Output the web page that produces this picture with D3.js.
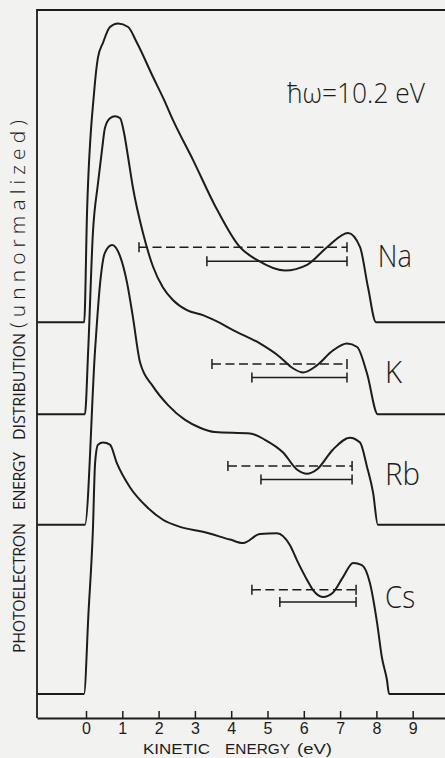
<!DOCTYPE html>
<html>
<head>
<meta charset="utf-8">
<script src="https://cdn.jsdelivr.net/npm/d3@7"></script>
<style>
  html, body { margin: 0; padding: 0; background: #f2f2f0; }
  svg { display: block; background: #f2f2f0; }
  text { font-family: "Open Sans", "Liberation Sans", Arial, sans-serif; font-weight: 300; fill: #1c1c1c; }
  .title { font-weight: 400; }
  .compact { font-family: "Liberation Sans", Arial, sans-serif; font-weight: 400; }
</style>
</head>
<body>
<svg id="chart" width="445" height="758"></svg>
<script>
// Alkali metals and the vertical offset of each curve's baseline (arbitrary units)
const metals = ["Na", "K", "Rb", "Cs"];
const offsets = [5.59, 4.29, 2.73, 0.34];

// Kinetic energy tick values (eV)
const energyTicks = [0, 1, 2, 3, 4, 5, 6, 7, 8, 9];

// Energy distribution curves: [kinetic energy (eV), intensity above baseline]
const naCurve = [
  [-0.05, 0], [0.03, 1.58], [0.22, 3.23], [0.33, 3.74], [0.47, 3.95], [0.66, 4.17],
  [0.88, 4.22], [1.16, 4.17], [1.40, 3.95], [1.85, 3.46], [2.15, 3.14], [2.40, 2.85],
  [2.95, 2.29], [3.55, 1.65], [4.24, 1.06], [4.71, 0.88], [5.48, 0.73], [6.09, 0.81],
  [6.64, 1.06], [7.22, 1.26], [7.55, 1.06], [7.77, 0.49], [7.99, 0]
];
const kCurve = [
  [-0.03, 0], [0.06, 0.90], [0.19, 2.56], [0.33, 3.26], [0.44, 3.73], [0.52, 4.04],
  [0.66, 4.18], [0.80, 4.21], [0.94, 4.18], [1.05, 3.97], [1.16, 3.63], [1.29, 3.21],
  [1.57, 2.56], [1.85, 2.08], [2.12, 1.79], [2.40, 1.61], [2.78, 1.47], [3.22, 1.40],
  [3.69, 1.29], [4.05, 1.19], [4.79, 1.00], [5.34, 0.81], [5.70, 0.65], [5.98, 0.59],
  [6.36, 0.69], [6.80, 0.90], [7.19, 1.00], [7.47, 0.95], [7.74, 0.58], [8.04, 0]
];
const rbCurve = [
  [-0.03, 0], [0.25, 2.47], [0.39, 3.42], [0.52, 3.84], [0.72, 3.95], [0.94, 3.79],
  [1.13, 3.42], [1.29, 2.94], [1.49, 2.29], [1.85, 1.95], [2.26, 1.69], [2.73, 1.48],
  [3.14, 1.37], [3.55, 1.31], [4.52, 1.29], [4.93, 1.20], [5.43, 1.02], [5.81, 0.78],
  [6.09, 0.72], [6.36, 0.78], [6.80, 1.06], [7.27, 1.23], [7.55, 1.16], [7.74, 0.82],
  [7.91, 0.45], [8.04, 0]
];
const csCurve = [
  [-0.055, 0], [0.07, 1.16], [0.19, 2.32], [0.25, 3.26], [0.33, 3.52], [0.47, 3.55],
  [0.66, 3.52], [0.85, 3.26], [1.21, 2.92], [1.68, 2.64], [2.12, 2.46], [2.59, 2.36],
  [3.22, 2.29], [3.97, 2.18], [4.33, 2.13], [4.79, 2.26], [5.26, 2.27], [5.62, 2.10],
  [5.81, 1.89], [6.09, 1.61], [6.25, 1.47], [6.53, 1.37], [6.80, 1.43], [7.08, 1.65],
  [7.36, 1.85], [7.60, 1.82], [7.82, 1.57], [8.02, 1.00], [8.15, 0.52], [8.29, 0.20],
  [8.35, 0]
];
const curves = [naCurve, kCurve, rbCurve, csCurve];

// Energy ranges marked for each metal (eV), and the level they are drawn at
const dashedRanges = [[1.46, 7.19], [3.47, 7.19], [3.91, 7.33], [4.57, 7.44]];
const dashedLevels = [1.06, 0.71, 0.83, 1.47];
const solidRanges = [[3.33, 7.19], [4.57, 7.19], [4.82, 7.33], [5.34, 7.44]];
const solidLevels = [0.86, 0.52, 0.64, 1.30];

const ink = "#1c1c1c";
const svg = d3.select("#chart");

const x = d3.scaleLinear().domain([-1.35, 9.89]).range([37, 445]);
const y = d3.scaleLinear().domain([0, 10]).range([718, 10]);
const [eMin, eMax] = x.domain();

// Frame: left edge and top
svg.append("path")
  .attr("d", `M${x(eMin)},${y(0)}V${y(10)}H${x(eMax)}`)
  .attr("fill", "none").attr("stroke", ink).attr("stroke-width", 1.8);

// Energy axis with inward ticks
const axis = svg.append("g")
  .attr("transform", `translate(0,${y(0)})`)
  .call(d3.axisBottom(x).tickValues(energyTicks)
    .tickSizeInner(-7).tickSizeOuter(0).tickPadding(5)
    .tickFormat(d3.format("d")));
axis.attr("font-family", null).attr("font-size", null);
axis.select(".domain").attr("stroke", ink).attr("stroke-width", 1.8);
axis.selectAll(".tick line").attr("stroke", ink).attr("stroke-width", 1.5);
axis.selectAll(".tick text").attr("class", "compact").attr("fill", ink).style("font-size", "16px");

// Curves
const line = (off) => d3.line()
  .x(d => x(d[0]))
  .y(d => y(off + d[1]))
  .curve(d3.curveMonotoneX);

curves.forEach((c, i) => {
  const pts = [[eMin, 0], ...c, [eMax, 0]];
  svg.append("path")
    .datum(pts)
    .attr("d", line(offsets[i]))
    .attr("fill", "none")
    .attr("stroke", ink)
    .attr("stroke-width", 2);
});

// Range bars with end caps
function rangeBar(range, level, off, dashed) {
  const yy = y(off + level);
  const g = svg.append("g").attr("stroke", ink).attr("stroke-width", 1.5);
  g.append("line")
    .attr("x1", x(range[0])).attr("x2", x(range[1]))
    .attr("y1", yy).attr("y2", yy)
    .attr("stroke-dasharray", dashed ? "9,4.5" : null);
  range.forEach(e => {
    g.append("line")
      .attr("x1", x(e)).attr("x2", x(e))
      .attr("y1", yy - 5).attr("y2", yy + 5);
  });
}
metals.forEach((m, i) => {
  rangeBar(dashedRanges[i], dashedLevels[i], offsets[i], true);
  rangeBar(solidRanges[i], solidLevels[i], offsets[i], false);
});

// Metal labels: [energy, level above baseline, drawn width]
const labelPos = [[8.04, 0.78, 34], [8.24, 0.44, 17], [8.24, 0.56, 35], [8.24, 1.21, 30]];
metals.forEach((m, i) => {
  svg.append("text")
    .attr("x", x(labelPos[i][0]))
    .attr("y", y(offsets[i] + labelPos[i][1]))
    .attr("textLength", labelPos[i][2]).attr("lengthAdjust", "spacingAndGlyphs")
    .style("font-size", "32px")
    .text(m);
});

// Photon energy
svg.append("text")
  .attr("x", 287).attr("y", 103)
  .attr("textLength", 138).attr("lengthAdjust", "spacingAndGlyphs")
  .style("font-size", "27px")
  .text("ħω=10.2 eV");

// Energy axis title, word by word: [word, left edge, width]
const xTitle = [["KINETIC", 143, 67], ["ENERGY", 225, 65], ["(eV)", 297, 35]];
xTitle.forEach(([w, left, len]) => {
  svg.append("text")
    .attr("class", "compact")
    .attr("x", left).attr("y", 754)
    .attr("textLength", len).attr("lengthAdjust", "spacingAndGlyphs")
    .style("font-size", "15px")
    .text(w);
});

// Vertical title, word by word, read bottom to top: [word, start y, length, size]
const yTitle = [
  ["PHOTOELECTRON", 653, 130, 16],
  ["ENERGY", 510, 58, 16],
  ["DISTRIBUTION", 440, 107, 16],
  ["(unnormalized)", 328, 208, 21]
];
yTitle.forEach(([w, start, len, size]) => {
  svg.append("text")
    .attr("class", "title")
    .attr("transform", `translate(25,${start}) rotate(-90)`)
    .attr("textLength", len).attr("lengthAdjust", "spacing")
    .style("font-size", `${size}px`)
    .style("font-weight", size > 18 ? 300 : null)
    .text(w);
});
</script>
</body>
</html>
